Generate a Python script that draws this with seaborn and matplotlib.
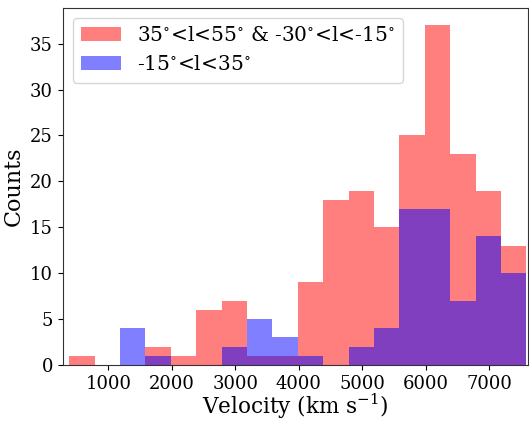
import numpy as np
import pandas as pd
import matplotlib
matplotlib.use("Agg")
import matplotlib.pyplot as plt
import seaborn as sns

# Histogram bins (km/s)
bin_edges = [385, 785, 1185, 1585, 1985, 2385, 2785, 3185, 3585, 3985,
             4385, 4785, 5185, 5585, 5985, 6385, 6785, 7185, 7585]
bin_centers = [(a + b) / 2 for a, b in zip(bin_edges[:-1], bin_edges[1:])]

counts_outer = [1, 0, 0, 2, 1, 6, 7, 1, 1, 9, 18, 19, 15, 25, 37, 23, 19, 13]
counts_inner = [0, 0, 4, 1, 0, 0, 2, 5, 3, 1, 0, 2, 4, 17, 17, 7, 14, 10]

label_outer = r"35$^{\circ}$<l<55$^{\circ}$ & -30$^{\circ}$<l<-15$^{\circ}$"
label_inner = r"-15$^{\circ}$<l<35$^{\circ}$"

x_ticks = [1000, 2000, 3000, 4000, 5000, 6000, 7000]
y_ticks = [0, 5, 10, 15, 20, 25, 30, 35]

plt.rcdefaults()
plt.rcParams["font.family"] = ["DejaVu Serif"]
plt.rcParams["mathtext.fontset"] = "dejavuserif"

df_outer = pd.DataFrame({"v": bin_centers, "n": counts_outer})
df_inner = pd.DataFrame({"v": bin_centers, "n": counts_inner})

fig = plt.figure(figsize=(5.29, 4.21), dpi=100)
ax = fig.add_axes([62.7 / 529, 1 - 365 / 421, (527.7 - 62.7) / 529, (365 - 8.3) / 421])

sns.histplot(data=df_outer, x="v", weights="n", bins=bin_edges, color="red",
             alpha=0.5, linewidth=0, label=label_outer, ax=ax)
sns.histplot(data=df_inner, x="v", weights="n", bins=bin_edges, color="blue",
             alpha=0.5, linewidth=0, label=label_inner, ax=ax)

ax.set_xlim(282, 7605)
ax.set_ylim(0, 38.85)
ax.set_xticks(x_ticks)
ax.set_yticks(y_ticks)
ax.tick_params(labelsize=13, length=3.5, width=0.8, pad=3.5, colors="black")
ax.set_xlabel(r"Velocity (km s$^{-1}$)", fontsize=15.5, labelpad=-0.5)
ax.set_ylabel("Counts", fontsize=16, labelpad=4)
for s in ax.spines.values():
    s.set_visible(True)
    s.set_color("#333333")
    s.set_linewidth(0.8)

ax.legend(loc="upper left", fontsize=14.5)

fig.savefig("out.png", dpi=100)
